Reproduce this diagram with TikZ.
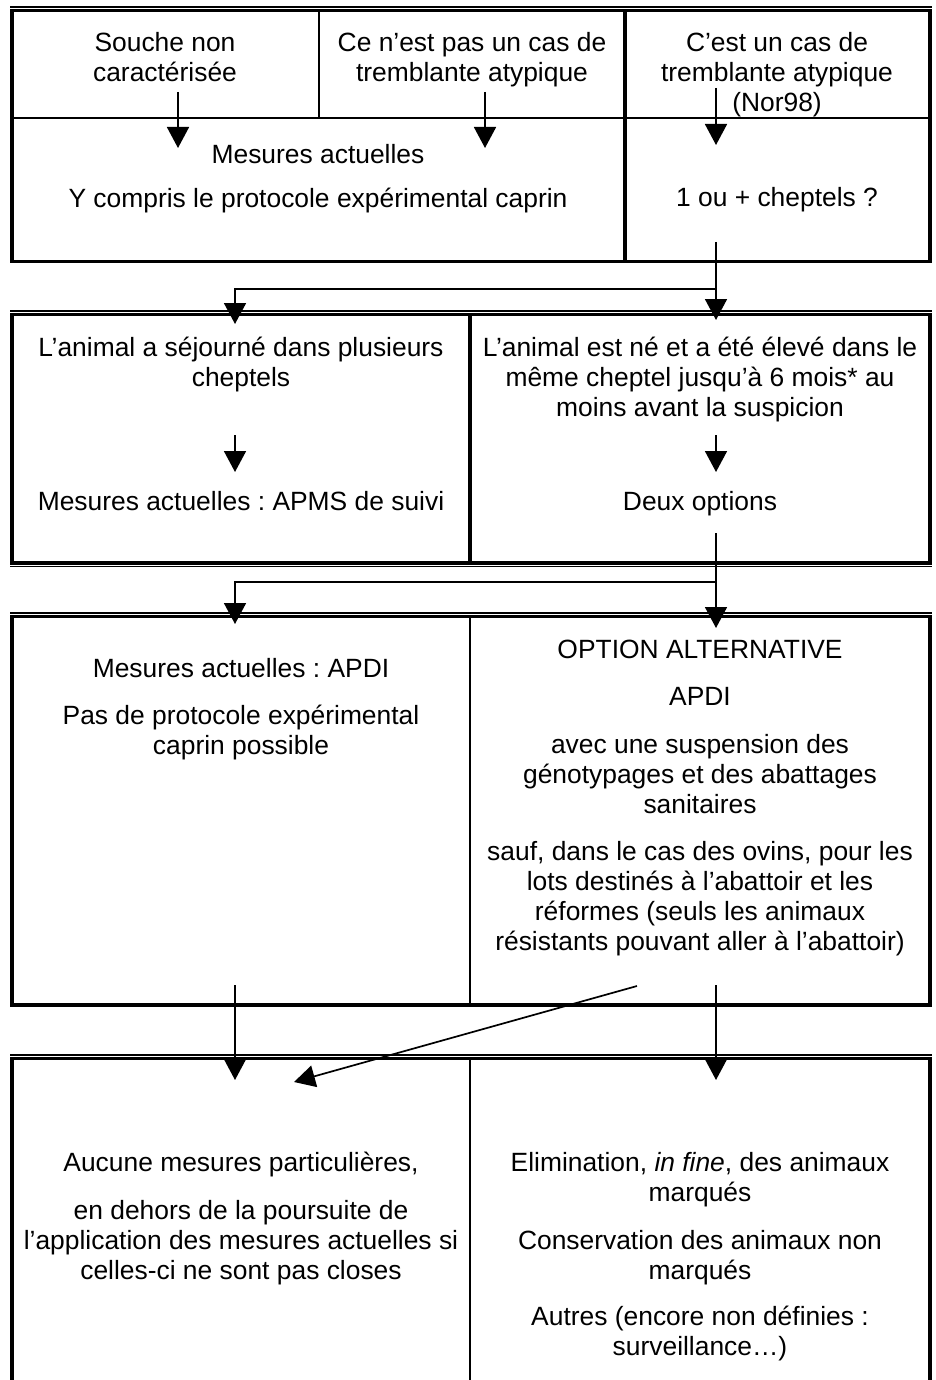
\documentclass[tikz,border=0pt]{standalone}
\usepackage{fontspec}
\setmainfont{Liberation Sans}
\usetikzlibrary{arrows.meta}
\frenchspacing
\begin{document}
\begin{tikzpicture}[x=1pt,y=-1pt,
  hair/.style={line width=1.5pt},
  thinl/.style={line width=1.7pt},
  thickl/.style={line width=3.6pt},
  conn/.style={line width=1.7pt,-{Triangle[width=22pt,length=21pt]}},
  txt/.style={anchor=base,inner sep=0pt,font=\fontsize{26.4}{30}\selectfont}]
\useasboundingbox (0,0) rectangle (935,1380);
\fill[white] (0,0) rectangle (935,1380);
% ---------- table 1
\draw[hair] (10,7) -- (932,7);
\draw[thickl] (12,10.5) rectangle (930,261.5);
\draw[thinl] (12,118) -- (930,118);
\draw[thinl] (319,10.5) -- (319,118);
\draw[thickl] (625,10.5) -- (625,261.5);
% ---------- table 2
\draw[hair] (10,311) -- (932,311);
\draw[thickl] (12,314.5) rectangle (930,563);
\draw[hair] (10,566.5) -- (932,566.5);
\draw[thickl] (470,314.5) -- (470,563);
% ---------- table 3
\draw[hair] (10,613) -- (932,613);
\draw[thickl] (12,616.5) rectangle (930,1005);
\draw[thinl] (470,616.5) -- (470,1005);
% ---------- table 4
\draw[hair] (10,1055) -- (932,1055);
\draw[thickl] (12,1400) -- (12,1058.5) -- (930,1058.5) -- (930,1400);
\draw[thinl] (470,1058.5) -- (470,1400);
% ---------- texts table 1
\node[txt] (a1) at (165,52) {Souche non};
\node[txt] (a2) at (165,82) {caractérisée};
\node[txt] (b1) at (472,52) {Ce n’est pas un cas de};
\node[txt] (b2) at (472,82) {tremblante atypique};
\node[txt] (c1) at (777,52) {C’est un cas de};
\node[txt] (c2) at (777,82) {tremblante atypique};
\node[txt] (c3) at (777,112) {(Nor98)};
\node[txt] (d1) at (318,164) {Mesures actuelles};
\node[txt] (d2) at (318,208) {Y compris le protocole expérimental caprin};
\node[txt] (e1) at (777,207) {1 ou + cheptels ?};
% ---------- texts table 2
\node[txt] (f1) at (241,356) {L’animal a séjourné dans plusieurs};
\node[txt] (f2) at (241,386) {cheptels};
\node[txt] (f3) at (241,510) {Mesures actuelles : APMS de suivi};
\node[txt] (g1) at (700,356) {L’animal est né et a été élevé dans le};
\node[txt] (g2) at (700,386) {même cheptel jusqu’à 6 mois* au};
\node[txt] (g3) at (700,416) {moins avant la suspicion};
\node[txt] (g4) at (700,510) {Deux options};
% ---------- texts table 3
\node[txt] (h1) at (241,677) {Mesures actuelles : APDI};
\node[txt] (h2) at (241,724) {Pas de protocole expérimental};
\node[txt] (h3) at (241,754) {caprin possible};
\node[txt] (i1) at (700,658) {OPTION ALTERNATIVE};
\node[txt] (i2) at (700,705) {APDI};
\node[txt] (i3) at (700,753) {avec une suspension des};
\node[txt] (i4) at (700,783) {génotypages et des abattages};
\node[txt] (i5) at (700,813) {sanitaires};
\node[txt] (i6) at (700,860) {sauf, dans le cas des ovins, pour les};
\node[txt] (i7) at (700,890) {lots destinés à l’abattoir et les};
\node[txt] (i8) at (700,920) {réformes (seuls les animaux};
\node[txt] (i9) at (700,950) {résistants pouvant aller à l’abattoir)};
% ---------- texts table 4
\node[txt] (j1) at (241,1171) {Aucune mesures particulières,};
\node[txt] (j2) at (241,1219) {en dehors de la poursuite de};
\node[txt] (j3) at (241,1249) {l’application des mesures actuelles si};
\node[txt] (j4) at (241,1279) {celles-ci ne sont pas closes};
\node[txt] (k1) at (700,1171) {Elimination, \textit{in fine}, des animaux};
\node[txt] (k2) at (700,1201) {marqués};
\node[txt] (k3) at (700,1249) {Conservation des animaux non};
\node[txt] (k4) at (700,1279) {marqués};
\node[txt] (k5) at (700,1325) {Autres (encore non définies :};
\node[txt] (k6) at (700,1355) {surveillance…)};
% ---------- connector points
\coordinate (p1s) at (178,92);  \coordinate (p1e) at (178,148);
\coordinate (p2s) at (485,92);  \coordinate (p2e) at (485,148);
\coordinate (p3s) at (716,88);  \coordinate (p3e) at (716,145);
\coordinate (q1s) at (716,242); \coordinate (q1e) at (716,320);
\coordinate (q1b) at (716,289); \coordinate (q1c) at (235,289); \coordinate (q1d) at (235,324);
\coordinate (r1s) at (235,435); \coordinate (r1e) at (235,472);
\coordinate (r2s) at (716,435); \coordinate (r2e) at (716,472);
\coordinate (q2s) at (716,533); \coordinate (q2e) at (716,628);
\coordinate (q2b) at (716,582); \coordinate (q2c) at (235,582); \coordinate (q2d) at (235,624);
\coordinate (u1s) at (235,985); \coordinate (u1e) at (235,1080);
\coordinate (u2s) at (716,985); \coordinate (u2e) at (716,1080);
\coordinate (u3s) at (637,986); \coordinate (u3e) at (294,1082);
% ---------- connectors
\draw[conn] (p1s) -- (p1e);
\draw[conn] (p2s) -- (p2e);
\draw[conn] (p3s) -- (p3e);
\draw[conn] (q1s) -- (q1e);
\draw[conn] (q1b) -- (q1c) -- (q1d);
\draw[conn] (r1s) -- (r1e);
\draw[conn] (r2s) -- (r2e);
\draw[conn] (q2s) -- (q2e);
\draw[conn] (q2b) -- (q2c) -- (q2d);
\draw[conn] (u1s) -- (u1e);
\draw[conn] (u2s) -- (u2e);
\draw[conn] (u3s) -- (u3e);
\end{tikzpicture}
\end{document}
